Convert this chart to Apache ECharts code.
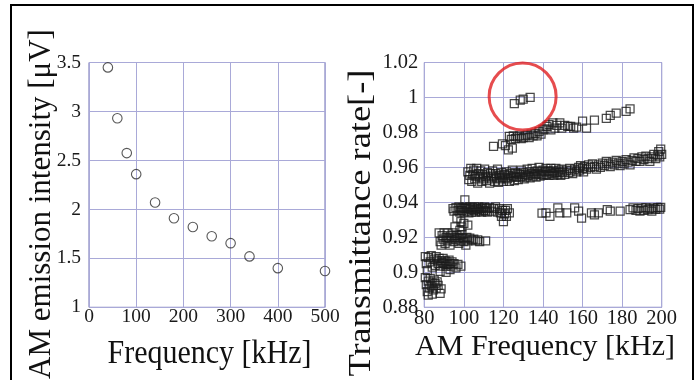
<!DOCTYPE html>
<html>
<head>
<meta charset="utf-8">
<script src="https://cdn.jsdelivr.net/npm/echarts@6/dist/echarts.min.js"></script>
<style>
html,body{margin:0;padding:0;background:#fff;}
#chart{width:700px;height:380px;}
</style>
</head>
<body>
<div id="chart"></div>
<script>
// ---------- Left panel data ----------
const emFreq = [40, 60, 80, 100, 140, 180, 220, 260, 300, 340, 400, 500];
const emIntensity = [3.45, 2.93, 2.575, 2.36, 2.07, 1.91, 1.82, 1.725, 1.655, 1.52, 1.40, 1.37];
const leftXTicks = [0, 100, 200, 300, 400, 500];
const leftYTicks = [1, 1.5, 2, 2.5, 3, 3.5];

// ---------- Right panel data (AM frequency kHz, transmittance) ----------
const bandA = [ // ~0.893, 80-89 kHz
[80.5,0.897],[81,0.893],[81.5,0.889],[82,0.895],[82.5,0.891],[83,0.8965],[83.5,0.8925],[84,0.894],[84.5,0.890],
[85,0.8955],[85.5,0.8935],[86,0.891],[86.5,0.8945],[87,0.8925],[88,0.888],[88.5,0.8905],[82,0.887],[84,0.8875]];
const bandB = [ // ~0.905, 80-99 kHz
[80.5,0.909],[81,0.905],[81.5,0.901],[82,0.9085],[83,0.906],[83.5,0.9095],[84,0.903],[85,0.9075],[85.5,0.904],
[86,0.909],[86.5,0.9065],[87,0.905],[87.5,0.908],[88,0.9035],[88.5,0.9065],[89,0.9055],[89.5,0.908],[90,0.905],
[90.5,0.9065],[91,0.9035],[91.5,0.906],[92,0.9045],[92.5,0.907],[93,0.905],[93.5,0.9035],[94,0.906],[95,0.905],
[96,0.9025],[97,0.9045],[98.5,0.9035],[91,0.900],[88,0.9005],[93,0.9015]];
const bandC = [ // ~0.92, 87-111 kHz
[87.5,0.9225],[88,0.9175],[88.5,0.9155],[89,0.921],[89.5,0.919],[90,0.9225],[90.5,0.9165],[91,0.920],[91.5,0.918],
[92,0.9225],[92.5,0.9195],[93,0.9155],[93.5,0.921],[94,0.919],[94.5,0.9225],[95,0.9175],[95.5,0.920],[96,0.9185],
[96.5,0.921],[97,0.9195],[97.5,0.9165],[98,0.920],[98.5,0.918],[99,0.9215],[99.5,0.9195],[100,0.9175],[100.5,0.919],
[101,0.9155],[101.5,0.920],[102,0.918],[103,0.9195],[104,0.9185],[105,0.919],[106,0.918],[107,0.9185],[108,0.9175],[111,0.918]];
const bandRise = [
[95.5,0.926],[96.5,0.931],[98,0.924],[98.5,0.929],[99,0.926],[100,0.928],[102,0.927],[100.5,0.9415]];
const bandD = [ // ~0.936, 94-123 kHz
[94.5,0.9365],[95,0.935],[96,0.937],[97,0.9355],[97.5,0.9375],[98,0.9345],[98.5,0.9365],[99,0.9355],[99.5,0.937],
[100,0.9345],[100.5,0.9365],[101,0.9375],[101.5,0.935],[102,0.9365],[102.5,0.934],[103,0.9375],[103.5,0.936],
[104,0.9345],[104.5,0.937],[105,0.9355],[105.5,0.9375],[106,0.9345],[106.5,0.9365],[107,0.936],[107.5,0.9375],
[108,0.935],[108.5,0.9365],[109,0.9345],[109.5,0.937],[110,0.9355],[110.5,0.9375],[111,0.935],[111.5,0.9365],
[112,0.9345],[113,0.937],[114,0.935],[115,0.9365],[116,0.9375],[117,0.9345],[118,0.9365],[118.5,0.934],[119,0.932],
[119.5,0.9355],[120,0.929],[120.5,0.9335],[121,0.9355],[121.5,0.932],[122,0.9365],[123,0.934]];
const bandE = [ // ~0.935, 139-200 kHz
[139.5,0.9338],[141.5,0.934],[143.5,0.932],[147.5,0.9368],[148.5,0.934],[152,0.934],[156,0.9368],[158,0.935],
[159.5,0.931],[164.5,0.934],[166,0.9328],[168,0.934],[172.5,0.9358],[174,0.935],[179,0.935],[184,0.9358],
[185.5,0.9368],[187,0.9355],[188,0.9365],[189,0.935],[190,0.9368],[191,0.9355],[192,0.937],[193,0.9358],
[194,0.9365],[195,0.935],[196,0.9368],[197,0.936],[198,0.937],[199,0.9362],[199.5,0.9372]];
const bandF = [ // middle band 0.955 -> 0.968, 102-200 kHz
[102,0.9575],[102.5,0.953],[103,0.9555],[103.5,0.9595],[104,0.952],[104.5,0.956],[105,0.9585],[105.5,0.9535],
[106,0.955],[106.5,0.9595],[107,0.951],[107.5,0.9565],[108,0.9545],[108.5,0.958],[109,0.952],[109.5,0.956],
[110,0.9535],[110.5,0.959],[111,0.955],[111.5,0.9525],[112,0.957],[112.5,0.9545],[113,0.951],[113.5,0.9565],
[114,0.9535],[114.5,0.958],[115,0.955],[115.5,0.952],[116,0.9565],[116.5,0.954],[117,0.959],[117.5,0.9515],
[118,0.9555],[118.5,0.9535],[119,0.957],[119.5,0.9545],[120,0.952],[120.5,0.956],[121,0.954],[121.5,0.9575],
[122,0.9535],[122.5,0.9555],[123,0.952],[123.5,0.9565],[124,0.9545],[124.5,0.9585],[125,0.955],[125.5,0.9525],
[126,0.957],[126.5,0.9545],[127,0.9565],[127.5,0.953],[128,0.956],[128.5,0.9545],[129,0.9585],[129.5,0.955],
[130,0.957],[130.5,0.9535],[131,0.956],[131.5,0.9545],[132,0.959],[132.5,0.9555],[133,0.9575],[133.5,0.954],
[134,0.9565],[134.5,0.9595],[135,0.955],[135.5,0.9575],[136,0.956],[136.5,0.9545],[137,0.958],[137.5,0.9565],
[138,0.960],[138.5,0.955],[139,0.9575],[139.5,0.956],[140,0.9585],[140.5,0.9555],[141,0.9575],[141.5,0.9595],
[142,0.956],[142.5,0.958],[143,0.9555],[143.5,0.9575],[144,0.9595],[144.5,0.9565],[145,0.958],[145.5,0.9555],
[146,0.957],[146.5,0.9595],[147,0.9575],[147.5,0.956],[148,0.9585],[148.5,0.957],[149,0.9555],[149.5,0.959],
[150,0.9575],[151,0.956],[152,0.9585],[153,0.957],[153.5,0.9595],[154,0.958],[155,0.9565],[156,0.959],
[157,0.9575],[158,0.960],[158.5,0.9585],[159,0.961],[160,0.9595],[160.5,0.9575],[161,0.9605],[162,0.959],
[163,0.9615],[164,0.960],[165,0.962],[166,0.9605],[167,0.959],[168,0.9615],[169,0.960],[170,0.9625],
[171,0.961],[172,0.9635],[173,0.962],[174,0.9605],[175,0.963],[176,0.9615],[177,0.964],[178,0.9625],
[179,0.961],[180,0.9635],[181,0.962],[182,0.9645],[183,0.963],[184,0.9615],[185,0.964],[186,0.9655],
[187,0.9635],[188,0.965],[189,0.9635],[190,0.966],[191,0.9645],[192,0.9665],[193,0.965],[194,0.9635],
[195,0.966],[196,0.9675],[197,0.965],[198,0.967],[198.5,0.969],[199,0.966],[199.5,0.9705],[200,0.9675]];
const bandG = [ // upper band 0.97 -> 0.994, 115-184 kHz
[115,0.972],[119.5,0.9735],[121,0.9725],[122.5,0.970],[123,0.9777],[124,0.976],[124.5,0.971],[125,0.978],
[126,0.9765],[127,0.9775],[128,0.978],[129,0.9765],[130,0.977],[131,0.978],[132,0.9785],[133,0.977],
[134,0.979],[135,0.978],[136,0.9795],[137,0.978],[138,0.9805],[139,0.979],[140,0.9815],[141,0.982],
[142,0.9835],[143,0.9845],[144,0.9815],[145,0.9855],[146,0.9825],[147,0.984],[148.5,0.9855],[149.5,0.9825],
[151,0.984],[152.5,0.9835],[154,0.9835],[155.5,0.9825],[157,0.983],[160,0.9865],[162,0.9825],[166,0.987],
[172,0.988],[174,0.9898],[177,0.991],[182,0.992],[184,0.9935]];
const circledPts = [[125.5,0.9965],[128.5,0.9985],[130,0.999],[133.5,1.0]];
const highlightCenter = [[129.7, 1.0005]];
const rightXTicks = [80, 100, 120, 140, 160, 180, 200];
const rightYTicks = [0.88, 0.9, 0.92, 0.94, 0.96, 0.98, 1, 1.02];

// ---------- Chart ----------
const serif = '"Liberation Serif", "Times New Roman", serif';
const gridLineColor = '#a9a9d8';
const boxColor = '#6f6fb2';
const squares = [].concat(bandA, bandB, bandC, bandRise, bandD, bandE, bandF, bandG, circledPts);

const chart = echarts.init(document.getElementById('chart'), null, {renderer: 'canvas'});

function fmt(v) { return String(+(+v).toFixed(2)); }

const option = {
  animation: false,
  backgroundColor: '#fff',
  grid: [
    {left: 89, top: 62.5, width: 236, height: 244.8, show: true, borderColor: boxColor, borderWidth: 1, backgroundColor: 'transparent'},
    {left: 424.3, top: 62.5, width: 237.4, height: 244.8, show: true, borderColor: boxColor, borderWidth: 1, backgroundColor: 'transparent'}
  ],
  xAxis: [
    {type: 'value', gridIndex: 0, min: leftXTicks[0], max: leftXTicks[leftXTicks.length - 1], interval: 100,
     axisLine: {show: false}, axisTick: {show: false},
     splitLine: {show: true, lineStyle: {color: gridLineColor, width: 1}},
     axisLabel: {fontFamily: serif, fontSize: 19.5, color: '#1a1a1a', margin: 0, formatter: fmt}},
    {type: 'value', gridIndex: 1, min: rightXTicks[0], max: rightXTicks[rightXTicks.length - 1], interval: 20,
     axisLine: {show: false}, axisTick: {show: false},
     splitLine: {show: true, lineStyle: {color: gridLineColor, width: 1}},
     axisLabel: {fontFamily: serif, fontSize: 20.5, color: '#1a1a1a', margin: 1, formatter: fmt}}
  ],
  yAxis: [
    {type: 'value', gridIndex: 0, min: leftYTicks[0], max: leftYTicks[leftYTicks.length - 1], interval: 0.5,
     axisLine: {show: false}, axisTick: {show: false},
     splitLine: {show: true, lineStyle: {color: gridLineColor, width: 1}},
     axisLabel: {fontFamily: serif, fontSize: 19.5, color: '#1a1a1a', margin: 8, formatter: fmt}},
    {type: 'value', gridIndex: 1, min: rightYTicks[0], max: rightYTicks[rightYTicks.length - 1], interval: 0.02,
     axisLine: {show: false}, axisTick: {show: false},
     splitLine: {show: true, lineStyle: {color: gridLineColor, width: 1}},
     axisLabel: {fontFamily: serif, fontSize: 20.5, color: '#1a1a1a', margin: 6, formatter: fmt}}
  ],
  series: [
    {type: 'scatter', xAxisIndex: 0, yAxisIndex: 0,
     data: emFreq.map((f, i) => [f, emIntensity[i]]),
     symbol: 'circle', symbolSize: 9.5,
     itemStyle: {color: 'rgba(0,0,0,0)', borderColor: '#2e2e2e', borderWidth: 1.1},
     emphasis: {disabled: true}, clip: false},
    {type: 'scatter', xAxisIndex: 1, yAxisIndex: 1,
     data: squares,
     symbol: 'rect', symbolSize: 8,
     itemStyle: {color: 'rgba(0,0,0,0)', borderColor: '#1c1c1c', borderWidth: 1.25},
     emphasis: {disabled: true}, clip: false},
    {type: 'scatter', xAxisIndex: 1, yAxisIndex: 1, z: 5,
     data: highlightCenter,
     symbol: 'circle', symbolSize: 67,
     itemStyle: {color: 'rgba(0,0,0,0)', borderColor: '#e01f22', borderWidth: 3},
     emphasis: {disabled: true}, clip: false}
  ],
  graphic: [
    {type: 'rect', silent: true, shape: {x: 11, y: 5, width: 682, height: 400},
     style: {fill: 'none', stroke: '#000', lineWidth: 2}},
    {type: 'text', silent: true, x: 209.5, y: 354, scaleY: 1.12,
     style: {text: 'Frequency [kHz]', font: '30px ' + serif, fill: '#111',
             align: 'center', verticalAlign: 'middle', textAlign: 'center', textVerticalAlign: 'middle'}},
    {type: 'text', silent: true, x: 545, y: 346.7,
     style: {text: 'AM Frequency [kHz]', font: '30px ' + serif, fill: '#111',
             align: 'center', verticalAlign: 'middle', textAlign: 'center', textVerticalAlign: 'middle'}},
    {type: 'text', silent: true, x: 42, y: 204, rotation: Math.PI / 2,
     style: {text: 'AM emission intensity [μV]', font: '31px ' + serif, fill: '#111',
             align: 'center', verticalAlign: 'middle', textAlign: 'center', textVerticalAlign: 'middle'}},
    {type: 'text', silent: true, x: 361, y: 223, rotation: Math.PI / 2, scaleX: 1.12,
     style: {text: 'Transmittance rate[-]', font: '32.5px ' + serif, fill: '#111',
             align: 'center', verticalAlign: 'middle', textAlign: 'center', textVerticalAlign: 'middle'}}
  ]
};
chart.setOption(option);
</script>
</body>
</html>
